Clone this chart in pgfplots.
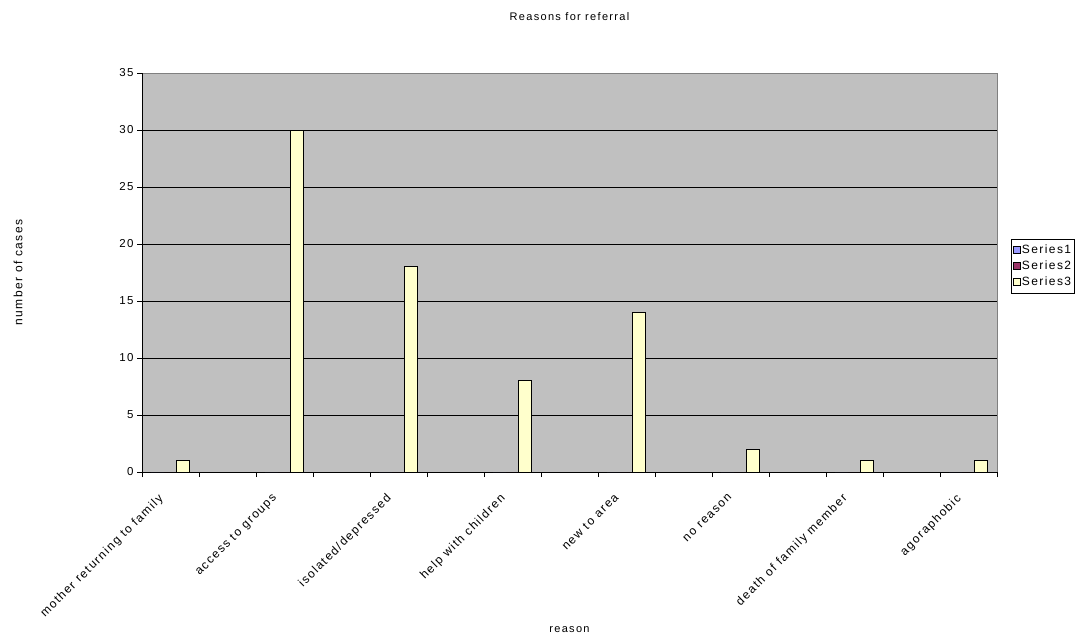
\documentclass[border=0pt]{standalone}
\usepackage{fontspec}
\setmainfont{Liberation Sans}[LetterSpace=12]
\usepackage{pgfplots}
\pgfplotsset{compat=1.18}
\definecolor{plotgray}{HTML}{C0C0C0}
\definecolor{sone}{HTML}{9999FF}
\definecolor{stwo}{HTML}{993366}
\definecolor{sthree}{HTML}{FFFFCC}

\begin{document}
\begin{tikzpicture}
\begin{axis}[
  at={(142pt,169pt)}, anchor=south west,
  scale only axis, width=855pt, height=399pt,
  xmin=-0.5, xmax=14.5, ymin=0, ymax=35,
  axis x line*=bottom, axis y line*=left,
  axis line style={black, line width=1pt},
  axis background/.style={fill=plotgray, draw=gray},
  tick align=outside, major tick length=5pt, minor tick length=5pt,
  tick style={black, line width=1pt},
  /pgf/number format/assume math mode=true,
  xtick={0,2,4,6,8,10,12,14},
  xticklabels={mother returning to family, access to groups, isolated/depressed, help with children, new to area, no reason, death of family member, agoraphobic},
  major x tick style={draw=none},
  minor xtick={-0.5,0.5,...,14.5},
  xticklabel style={xshift=-13pt, yshift=-11pt, rotate=45, anchor=north east, font=\fontsize{12}{13}\selectfont},
  ytick={0,5,...,30}, extra y ticks={35}, extra y tick style={grid=none},
  yticklabel style={font=\fontsize{11.5}{12}\selectfont},
  ymajorgrids, grid style={black, line width=1pt},
  ybar=0pt, bar width=12.7pt,
  title={Reasons for referral},
  title style={at={(axis description cs:0.5,1.127)}, anchor=center, font=\fontsize{11}{13}\selectfont},
  xlabel={reason},
  xlabel style={at={(axis description cs:0.5,-0.396)}, anchor=center, font=\fontsize{11}{13}\selectfont},
  ylabel={number of cases},
  ylabel style={at={(axis description cs:-0.145,0.5)}, anchor=center, font=\fontsize{12}{13}\selectfont},
  legend style={at={(1.0164,0.584)}, anchor=north west, draw=black, fill=white,
    font=\fontsize{12}{13}\selectfont, row sep=3.5pt, inner ysep=5pt, inner xsep=2pt, nodes={inner sep=1pt}},
  legend cell align=left,
  legend image code/.code={\draw[#1, line width=0.6pt] (0pt,-3.5pt) rectangle (7pt,3.5pt);},
]
\addplot[fill=sone, draw=black, line width=1pt] coordinates {(0,0) (2,0) (4,0) (6,0) (8,0) (10,0) (12,0) (14,0)};
\addplot[fill=stwo, draw=black, line width=1pt] coordinates {(0,0) (2,0) (4,0) (6,0) (8,0) (10,0) (12,0) (14,0)};
\addplot[fill=sthree, draw=black, line width=1pt] coordinates {(0,1) (2,30) (4,18) (6,8) (8,14) (10,2) (12,1) (14,1)};
\legend{Series1, Series2, Series3}
\end{axis}
\pgfresetboundingbox
\path[use as bounding box] (0,0) rectangle (1081pt,641pt);
\end{tikzpicture}
\end{document}
